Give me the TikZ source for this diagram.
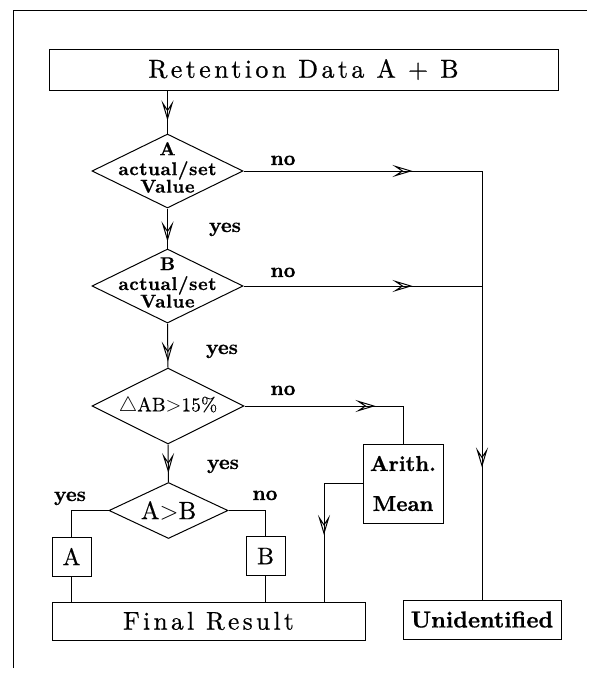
\documentclass[tikz,border=0pt]{standalone}
\usepackage{fontspec}
\setmainfont{lmroman10-regular.otf}[BoldFont=lmroman10-bold.otf, FakeBold=0.5, BoldFeatures={FakeBold=0.8}]
\newfontfamily\spaced{lmroman10-regular.otf}[LetterSpace=13, FakeBold=0.6]
\usetikzlibrary{arrows.meta,shapes.geometric,decorations.markings}

\tikzset{
  >={Stealth[open,length=20pt,width=12pt,inset=9pt]},
  line/.style={line width=1pt},
  box/.style={draw, line width=1pt, rectangle, inner sep=0pt},
  dec/.style={draw, diamond, line width=1pt, inner sep=0pt, aspect=2},
  tipat/.style={postaction={decorate},
    decoration={markings, mark=at position #1 with {\arrow{>}}}},
  lab/.style={font=\bfseries\fontsize{20.5}{20.5}\selectfont, inner sep=0pt, anchor=base},
  dtxt/.style={inner sep=0pt, align=center,
    font={\bfseries\fontsize{18.5}{17.5}\selectfont\addfontfeature{LetterSpace=3}\lineskiplimit=-30pt}},
}

\begin{document}
\begin{tikzpicture}[x=1pt,y=-1pt]
\useasboundingbox (0,0) rectangle (592,673);

% page frame
\draw[line] (13,668) -- (13,10) -- (587,10);

% boxes
\node[box, minimum width=509pt, minimum height=41pt, font=\spaced\fontsize{26}{26}\selectfont] (top) at (303.5,69.5) {Retention Data A + B};
\node[box, minimum width=313pt, minimum height=38pt, font=\spaced\fontsize{25.5}{25.5}\selectfont] (fin) at (208.5,621) {Final Result};
\node[box, minimum width=158pt, minimum height=39pt, font=\bfseries\fontsize{23}{23}\selectfont] (un) at (482,619.5) {Unidentified};
\node[box, minimum width=80pt, minimum height=79pt, align=center, font=\bfseries\fontsize{21.5}{40}\selectfont] (ar) at (403,483.5) {Arith.\\Mean};
\node[box, minimum width=39pt, minimum height=39pt, font=\fontsize{24}{24}\selectfont] (ba) at (71.5,556.5) {A};
\node[box, minimum width=39pt, minimum height=39pt, font=\fontsize{24}{24}\selectfont] (bb) at (265.5,556) {B};

% decisions
\node[dec, minimum width=151pt, minimum height=74pt] (dA) at (167.5,171) {};
\node[dtxt] (dAt) at (167.5,167.5) {A\\[2.5pt]actual/set\\Value};

\node[dec, minimum width=151pt, minimum height=74pt] (dB) at (167.5,286) {};
\node[dtxt] (dBt) at (167.5,282.5) {B\\[2.5pt]actual/set\\Value};

\node[dec, minimum width=152pt, minimum height=76pt, font=\fontsize{19.5}{19.5}\selectfont] (dC) at (168,406) {$\triangle$AB$>$15\%};
\node[dec, minimum width=119pt, minimum height=56pt, font=\fontsize{25}{25}\selectfont] (dD) at (168.5,510.5) {A$>$B};

% main flow
\draw[line, tipat=-13pt] (top.south -| dA.north) -- (dA.north);
\draw[line, tipat=-7pt] (dA.south) -- (dB.north);
\draw[line, tipat=-6pt] (dB.south) -- (dC.north);
\draw[line, tipat=-9pt] (dC.south) -- (dD.north);

% rejected branches
\draw[line, tipat=169pt] (dA.east) -- (dA.east -| un.north);
\draw[line, tipat=-132pt] (dA.east -| un.north) -- (un.north);
\draw[line, tipat=169pt] (dB.east) -- (dB.east -| un.north);

% mean branch
\draw[line, tipat=131pt] (dC.east) -| (ar.north);
\coordinate (drop) at (324,602);
\draw[line, tipat=-67pt] (ar.west) -| (drop);

% A > B choice
\draw[line] (dD.west) -| (ba.north);
\draw[line] (ba.south) -- (ba.south |- fin.north);
\draw[line] (dD.east) -| (bb.north);
\draw[line] (bb.south) -- (bb.south |- fin.north);

% branch labels
\node[lab] (n1) at (283,165) {no};
\node[lab] (n2) at (283,277) {no};
\node[lab] (n3) at (283,395) {no};
\node[lab] (n4) at (265,500) {no};
\node[lab] (y1) at (225,232) {yes};
\node[lab] (y2) at (222,354) {yes};
\node[lab] (y3) at (223,469) {yes};
\node[lab] (y4) at (70,501) {yes};
\end{tikzpicture}
\end{document}
